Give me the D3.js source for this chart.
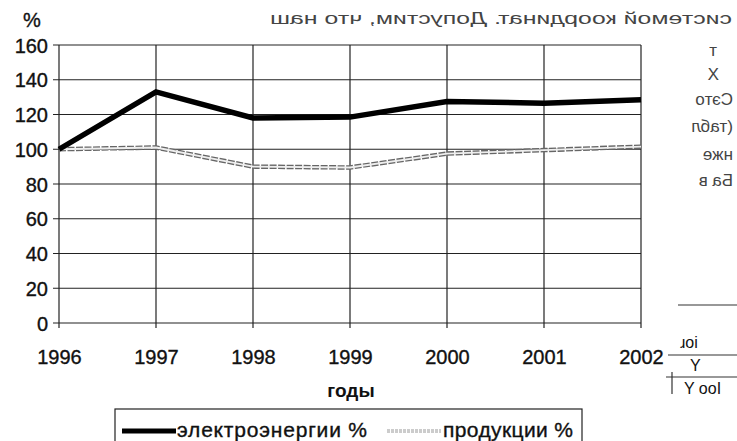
<!DOCTYPE html>
<meta charset="utf-8" />
<style>
    body { margin: 0; background: #fff; }
    text { font-family: "Liberation Sans", Arial, sans-serif; fill: #111; }
    .ink { stroke: #111; stroke-width: 0.35; }
    .grid line { stroke: #222; stroke-width: 1.2; }
    .bleed { fill: #444; font-size: 17px; }
</style>
<svg width="737" height="441"></svg>
<script src="https://d3js.org/d3.v7.min.js"></script>
<script>
    const years = [1996, 1997, 1998, 1999, 2000, 2001, 2002];
    const electricity = [100, 133, 118, 118.5, 127.5, 126.5, 128.5];
    const production = [100, 101, 90, 89.5, 97.5, 99.5, 101.5];
    const yTicks = [0, 20, 40, 60, 80, 100, 120, 140, 160];
    const seriesNames = ['электроэнергии %', 'продукции %'];

    const svg = d3.select('svg');
    const margin = { top: 45, right: 96, bottom: 118, left: 59 };
    const width = 737 - margin.left - margin.right;
    const height = 441 - margin.top - margin.bottom;

    const x = d3.scalePoint().domain(years).range([0, width]);
    const y = d3.scaleLinear().domain([0, 160]).range([height, 0]);

    // mirrored bleed-through from the other side of the scanned page
    svg.append('text')
        .attr('class', 'bleed')
        .attr('transform', 'translate(732,24) scale(-1,1)')
        .attr('textLength', 462)
        .attr('lengthAdjust', 'spacingAndGlyphs')
        .text('системой координат. Допустим, что наш');
    const bleedRight = [['т', 717, 56], ['Х', 719, 80], ['Сэто', 733, 105], ['(табл', 733, 132], ['нже', 733, 160], ['Ба в', 733, 186]];
    bleedRight.forEach(([t, xx, yy]) => {
        svg.append('text')
            .attr('class', 'bleed')
            .attr('transform', `translate(${xx},${yy}) scale(-1,1)`)
            .text(t);
    });

    const g = svg.append('g').attr('transform', `translate(${margin.left},${margin.top})`);

    // horizontal gridlines
    g.append('g')
        .attr('class', 'grid')
        .selectAll('line')
        .data(yTicks)
        .join('line')
        .attr('x1', -6)
        .attr('x2', width)
        .attr('y1', d => y(d))
        .attr('y2', d => y(d));

    // vertical gridlines
    g.append('g')
        .attr('class', 'grid')
        .selectAll('line')
        .data(years)
        .join('line')
        .attr('x1', d => x(d))
        .attr('x2', d => x(d))
        .attr('y1', 0)
        .attr('y2', height + 5);

    const yAxis = g.append('g')
        .call(d3.axisLeft(y).tickValues(yTicks).tickSize(0).tickPadding(11));
    yAxis.select('.domain').remove();
    yAxis.selectAll('text').attr('class', 'ink').style('font-size', '20px').attr('dy', '0.36em');

    const xAxis = g.append('g')
        .attr('transform', `translate(0,${height})`)
        .call(d3.axisBottom(x).tickSize(0).tickPadding(27));
    xAxis.select('.domain').remove();
    xAxis.selectAll('text').attr('class', 'ink').style('font-size', '20px');

    svg.append('text')
        .attr('class', 'ink')
        .attr('x', 23)
        .attr('y', 27)
        .style('font-size', '20px')
        .text('%');

    svg.append('text')
        .attr('x', 351)
        .attr('y', 397)
        .attr('text-anchor', 'middle')
        .style('font-size', '19px')
        .style('font-weight', 'bold')
        .text('годы');

    const line = d3.line().x(d => x(d[0])).y(d => y(d[1]));

    const prodData = years.map((yr, i) => [yr, production[i]]);
    const elecData = years.map((yr, i) => [yr, electricity[i]]);

    g.append('path')
        .datum(prodData)
        .attr('d', line)
        .attr('fill', 'none')
        .attr('stroke', '#666')
        .attr('stroke-width', 4.5)
        .attr('stroke-dasharray', '7 1.5');
    g.append('path')
        .datum(prodData)
        .attr('d', line)
        .attr('fill', 'none')
        .attr('stroke', '#eee')
        .attr('stroke-width', 1.8);

    g.append('path')
        .datum(elecData)
        .attr('d', line)
        .attr('fill', 'none')
        .attr('stroke', '#000')
        .attr('stroke-width', 5.5)
        .attr('stroke-linejoin', 'miter');

    // legend
    const legend = svg.append('g');
    legend.append('rect')
        .attr('x', 115)
        .attr('y', 409)
        .attr('width', 467)
        .attr('height', 45)
        .attr('fill', 'none')
        .attr('stroke', '#222')
        .attr('stroke-width', 1.2);
    legend.append('line')
        .attr('x1', 122).attr('x2', 176)
        .attr('y1', 431).attr('y2', 431)
        .attr('stroke', '#000').attr('stroke-width', 5);
    legend.append('text')
        .attr('class', 'ink')
        .attr('x', 177).attr('y', 437)
        .style('font-size', '21px')
        .attr('textLength', 190)
        .text(seriesNames[0]);
    legend.append('line')
        .attr('x1', 387).attr('x2', 441)
        .attr('y1', 431).attr('y2', 431)
        .attr('stroke', '#999').attr('stroke-width', 3)
        .attr('stroke-dasharray', '3 1');
    legend.append('line')
        .attr('x1', 387).attr('x2', 441)
        .attr('y1', 431).attr('y2', 431)
        .attr('stroke', '#fff').attr('stroke-width', 1);
    legend.append('text')
        .attr('class', 'ink')
        .attr('x', 443).attr('y', 437)
        .style('font-size', '21px')
        .attr('textLength', 130)
        .text(seriesNames[1]);

    // scraps of the neighbouring table at bottom right
    const scraps = svg.append('g').attr('stroke', '#333').attr('stroke-width', 1.2);
    [[678, 737, 305], [668, 737, 355], [666, 737, 377]].forEach(([a, b, yy]) => {
        scraps.append('line').attr('x1', a).attr('x2', b).attr('y1', yy).attr('y2', yy);
    });
    scraps.append('line').attr('x1', 672).attr('x2', 672).attr('y1', 372).attr('y2', 394);
    [['ɹоі', 680, 348], ['Y', 690, 371], ['Y ооI', 684, 394]].forEach(([t, xx, yy]) => {
        svg.append('text').attr('x', xx).attr('y', yy).style('font-size', '16px').attr('fill', '#333').text(t);
    });
</script>
